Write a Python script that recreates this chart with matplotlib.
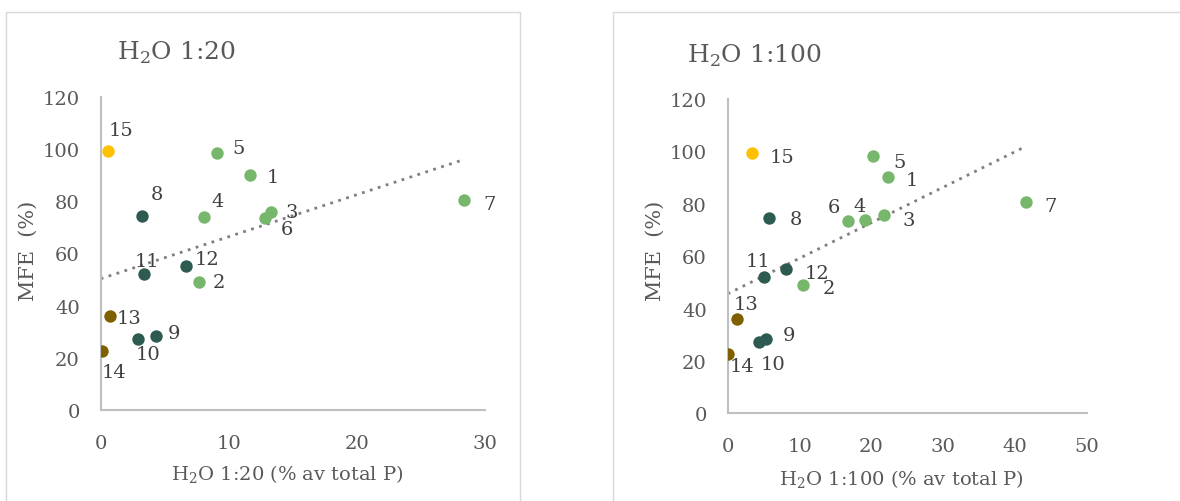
import matplotlib
matplotlib.use('Agg')
import matplotlib.pyplot as plt
import numpy as np
from matplotlib.patches import Rectangle

# sample numbers 1-15, MFE (%) and water-extractable P (% of total P)
samples = [str(i) for i in range(1, 16)]
mfe = [90.2, 49.0, 75.8, 74.0, 98.3, 73.5, 80.6, 74.5, 28.5, 27.1, 52.0, 55.0, 35.9, 22.5, 99.4]
h2o_20 = [11.7, 7.7, 13.3, 8.1, 9.1, 12.8, 28.4, 3.2, 4.3, 2.9, 3.4, 6.7, 0.7, 0.1, 0.6]
h2o_100 = [22.3, 10.5, 21.7, 19.1, 20.3, 16.8, 41.5, 5.8, 5.4, 4.3, 5.0, 8.1, 1.3, 0.1, 3.4]
groups = ['A'] * 7 + ['B'] * 5 + ['C'] * 2 + ['D']

colors = {'A': '#77B76C', 'B': '#2D5B51', 'C': '#7F6000', 'D': '#FFC000'}
txt = '#595959'

# label offsets (pixels) for each panel
off_20 = [(22, -2), (20, 0), (21, 0), (13, 16), (21, 5), (22, -11), (25, -4), (15, 22),
          (18, 3), (10, -15), (3, 13), (21, 7), (19, -2), (12, -21), (13, 21)]
off_100 = [(24, -3), (26, -3), (25, -5), (-5, 14), (26, -6), (-14, 14), (25, -4), (27, -1),
           (23, 4), (14, -22), (-6, 16), (31, -4), (9, 15), (14, -12), (30, -4)]

plt.rcParams['font.family'] = ['DejaVu Serif']
plt.rcParams['mathtext.fontset'] = 'custom'
plt.rcParams['mathtext.rm'] = 'DejaVu Serif'

fig = plt.figure(figsize=(11.8, 5.02), dpi=100)

# chart frames
fig.patches.append(Rectangle((6 / 1180, -0.1), 514 / 1180, 1.1 - 12.7 / 502, transform=fig.transFigure,
                             fill=False, edgecolor='#D9D9D9', lw=1))
fig.patches.append(Rectangle((612.7 / 1180, -0.1), 0.5, 1.1 - 12.7 / 502, transform=fig.transFigure,
                             fill=False, edgecolor='#D9D9D9', lw=1))


def panel(rect, x, xmax, offsets, title, xlabel, title_xy, ylab_x, xlab_y):
    ax = fig.add_axes(rect)
    x = np.array(x)
    y = np.array(mfe)
    for g in ['A', 'B', 'C', 'D']:
        idx = [i for i, gg in enumerate(groups) if gg == g]
        ax.scatter(x[idx], y[idx], s=80, color=colors[g], zorder=3, linewidths=0)
    k, m = np.polyfit(x, y, 1)
    xt = np.linspace(0, x.max(), 50)
    ax.plot(xt, k * xt + m, ls=(0, (1, 2)), color='#7F7F7F', lw=2, zorder=2)
    for i, s in enumerate(samples):
        ax.annotate(s, (x[i], y[i]), xytext=offsets[i], textcoords='offset pixels',
                    ha='center', va='center', fontsize=14, color='#404040', zorder=4)
    ax.set_xlim(0, xmax)
    ax.set_ylim(0, 120)
    ax.set_xticks(np.arange(0, xmax + 1, 10))
    ax.set_yticks(np.arange(0, 121, 20))
    for sp in ['top', 'right']:
        ax.spines[sp].set_visible(False)
    for sp in ['left', 'bottom']:
        ax.spines[sp].set_color('#BFBFBF')
        ax.spines[sp].set_linewidth(1.5)
    ax.tick_params(length=0, labelsize=14, labelcolor=txt)
    ax.tick_params(axis='x', pad=17)
    ax.tick_params(axis='y', pad=15)
    fig.text(title_xy[0] / 1180, 1 - title_xy[1] / 502, title, ha='center', va='center',
             fontsize=18, color=txt)
    fig.text(ylab_x / 1180, 0.5, 'MFE  (%)', rotation=90, ha='center', va='center',
             fontsize=15, color=txt)
    fig.text(rect[0] + rect[2] / 2 - 0.005, 1 - xlab_y / 502, xlabel, ha='center', va='center',
             fontsize=14, color=txt)
    return ax


panel([100.7 / 1180, 91 / 502, 384 / 1180, 313.2 / 502], h2o_20, 30, off_20,
      r'H$_{\mathrm{2}}$O 1:20', r'H$_{\mathrm{2}}$O 1:20 (% av total P)', (176, 53), 28, 475)
panel([727.7 / 1180, 87.6 / 502, 359 / 1180, 314.4 / 502], h2o_100, 50, off_100,
      r'H$_{\mathrm{2}}$O 1:100', r'H$_{\mathrm{2}}$O 1:100 (% av total P)', (754, 56), 655, 480)

fig.savefig('out.png', dpi=100)
